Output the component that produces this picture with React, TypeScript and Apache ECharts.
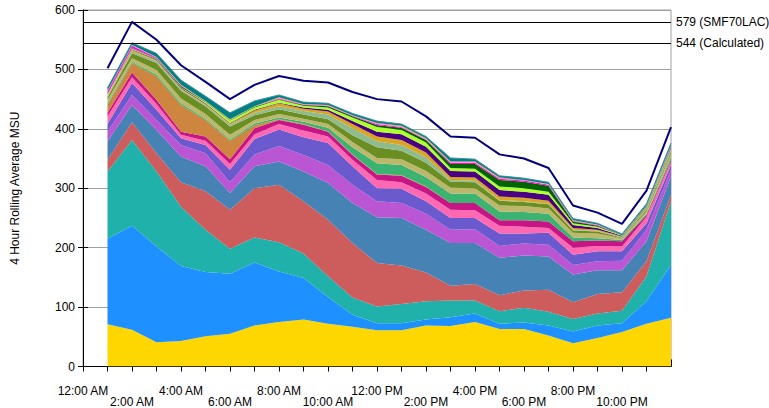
import React, { useEffect, useRef } from "react";
import * as echarts from "echarts";

const hourLabels = [
  "12:00 AM", "1:00 AM", "2:00 AM", "3:00 AM", "4:00 AM", "5:00 AM", "6:00 AM",
  "7:00 AM", "8:00 AM", "9:00 AM", "10:00 AM", "11:00 AM", "12:00 PM",
  "1:00 PM", "2:00 PM", "3:00 PM", "4:00 PM", "5:00 PM", "6:00 PM",
  "7:00 PM", "8:00 PM", "9:00 PM", "10:00 PM", "11:00 PM", "12:00 AM",
];

// values for hours 1..24 (stacked MSU per workload)
const s01 = [71, 62, 41, 43, 51, 55, 69, 75, 79, 72, 67, 61, 61, 69, 68, 75, 63, 63, 52, 39, 48, 58, 72, 82];
const s02 = [144, 175, 161, 126, 108, 101, 106, 85, 70, 45, 20, 12, 12, 10, 15, 14, 9, 11, 17, 20, 21, 15, 38, 89];
const s03 = [113, 144, 126, 100, 71, 42, 42, 49, 41, 35, 29, 28, 32, 31, 28, 22, 21, 25, 23, 21, 20, 21, 42, 107];
const s04 = [20, 30, 31, 41, 65, 66, 83, 97, 88, 95, 92, 73, 65, 48, 25, 28, 27, 29, 37, 28, 33, 31, 25, 11];
const s05 = [31, 29, 39, 43, 42, 28, 37, 39, 50, 62, 67, 77, 80, 72, 72, 69, 63, 59, 56, 47, 40, 37, 34, 31];
const s06 = [16, 17, 17, 20, 22, 18, 20, 26, 28, 30, 31, 27, 25, 27, 22, 23, 20, 20, 20, 16, 15, 16, 19, 11];
const s07 = [13, 20, 17, 11, 14, 21, 26, 28, 30, 37, 31, 22, 24, 21, 20, 19, 21, 17, 20, 17, 17, 16, 11, 8];
const s08 = [13, 10, 10, 6, 7, 10, 8, 9, 11, 11, 11, 14, 11, 13, 14, 13, 13, 11, 8, 12, 9, 8, 11, 6];
const s09 = [6, 8, 7, 5, 7, 8, 10, 7, 10, 8, 8, 9, 11, 11, 11, 12, 9, 11, 11, 11, 9, 9, 3, 3];
const s10 = [13, 16, 39, 45, 28, 31, 5, 1, 1, 1, 1, 1, 1, 1, 0, 0, 0, 0, 0, 0, 0, 0, 0, 0];
const s11 = [3, 2, 3, 3, 2, 2, 3, 3, 4, 6, 12, 18, 17, 16, 16, 16, 15, 14, 13, 6, 4, 2, 2, 4];
const s12 = [6, 6, 8, 8, 8, 8, 6, 6, 5, 6, 9, 9, 10, 10, 10, 9, 10, 10, 9, 8, 8, 3, 4, 6];
const s13 = [4, 8, 12, 13, 13, 14, 8, 8, 7, 8, 11, 18, 14, 14, 10, 10, 8, 7, 7, 4, 3, 1, 3, 4];
const s14 = [2, 3, 3, 2, 2, 3, 4, 5, 6, 8, 12, 10, 10, 9, 3, 3, 1, 1, 1, 1, 1, 1, 1, 3];
const s15 = [2, 3, 2, 2, 2, 2, 4, 5, 4, 5, 7, 8, 8, 8, 5, 5, 6, 6, 5, 3, 2, 1, 2, 2];
const s16 = [0, 1, 1, 1, 1, 1, 1, 1, 2, 3, 5, 8, 10, 10, 10, 10, 11, 10, 10, 5, 3, 1, 1, 1];
const s17 = [1, 1, 1, 1, 2, 4, 4, 5, 3, 4, 6, 8, 7, 7, 5, 5, 6, 6, 5, 3, 2, 1, 1, 1];
const s18 = [0, 1, 1, 2, 1, 1, 1, 1, 1, 2, 2, 3, 4, 4, 7, 8, 11, 11, 10, 3, 2, 0, 1, 1];
const s19 = [5, 4, 1, 1, 0, 0, 0, 1, 1, 1, 1, 2, 1, 1, 2, 2, 2, 2, 2, 1, 1, 0, 0, 1];
const s20 = [1, 1, 1, 1, 1, 1, 1, 2, 1, 1, 1, 2, 2, 2, 2, 2, 2, 1, 1, 1, 1, 0, 1, 1];
const s21 = [5, 4, 6, 8, 8, 11, 9, 4, 3, 3, 3, 3, 3, 3, 6, 4, 3, 3, 3, 3, 2, 2, 3, 4];

const rollingAvg = [502, 580, 550, 507, 479, 450, 474, 489, 481, 478, 462, 450, 446, 421, 387, 385, 357, 350, 334, 271, 259, 240, 296, 403];

const thresholdValues = [579, 544];
const thresholdNames = ["SMF70LAC", "Calculated"];

const layers = [s01, s02, s03, s04, s05, s06, s07, s08, s09, s10, s11, s12, s13, s14, s15, s16, s17, s18, s19, s20, s21];
const layerColors = [
  "#FFD700", "#1E90FF", "#20B2AA", "#CD5C5C", "#4682B4", "#BA55D3", "#6A5ACD",
  "#FF69B4", "#C71585", "#CD853F", "#3CB371", "#BDB76B", "#6B8E23", "#8FBC8F",
  "#DAA520", "#4B0082", "#ADFF2F", "#006400", "#FF00FF", "#FFA07A", "#008080",
];

const FONT = "'Liberation Sans', Arial, sans-serif";

export default function App() {
  const ref = useRef<HTMLDivElement>(null);

  useEffect(() => {
    if (!ref.current) return;
    const chart = echarts.init(ref.current, null, { renderer: "svg" });

    const areaSeries = layers.map((vals, i) => ({
      name: "Workload " + (i + 1),
      type: "line",
      stack: "total",
      symbol: "none",
      showSymbol: false,
      data: [null, ...vals],
      lineStyle: i === layers.length - 1 ? { width: 1, color: "#3F8FA3" } : { width: 0 },
      itemStyle: { color: layerColors[i] },
      areaStyle: { color: layerColors[i], opacity: 1 },
      z: 2,
    }));

    const option: any = {
      animation: false,
      textStyle: { fontFamily: FONT },
      grid: {
        left: 83,
        right: 98,
        top: 10,
        bottom: 41,
        containLabel: false,
        show: true,
        borderColor: "#A0A0A0",
        borderWidth: 1,
      },
      xAxis: [
        {
          type: "category",
          data: hourLabels,
          boundaryGap: false,
          position: "bottom",
          axisLine: { show: true, onZero: false, lineStyle: { color: "#000", width: 1 } },
          axisTick: { show: true, interval: 0, length: 5, lineStyle: { color: "#000" } },
          axisLabel: {
            interval: 1,
            margin: 19,
            color: "#000",
            fontSize: 12,
            fontFamily: FONT,
            lineHeight: 11,
            formatter: (value: string, index: number) => (index % 4 === 2 ? "\n" + value : value),
          },
          splitLine: { show: false },
        },
        {
          type: "category",
          data: hourLabels,
          boundaryGap: false,
          position: "bottom",
          axisLine: { show: false, onZero: false },
          axisTick: { show: true, interval: 1, inside: true, length: 7, lineStyle: { color: "#000" } },
          axisLabel: { show: false },
          splitLine: { show: false },
        },
      ],
      yAxis: [
        {
          type: "value",
          min: 0,
          max: 600,
          interval: 100,
          position: "left",
          name: "4 Hour Rolling Average MSU",
          nameLocation: "middle",
          nameRotate: 90,
          nameGap: 62,
          nameTextStyle: { color: "#000", fontSize: 12, fontFamily: FONT },
          axisLine: { show: true, lineStyle: { color: "#000", width: 1 } },
          axisTick: { show: true, length: 5, lineStyle: { color: "#000" } },
          axisLabel: { color: "#000", fontSize: 12, fontFamily: FONT, margin: 8 },
          splitLine: { show: true, lineStyle: { color: "#A0A0A0", width: 1 } },
        },
        {
          type: "value",
          min: 0,
          max: 600,
          interval: 100,
          position: "left",
          axisLine: { show: false },
          axisTick: { show: true, inside: true, length: 5, lineStyle: { color: "#000" } },
          axisLabel: { show: false },
          splitLine: { show: false },
        },
      ],
      series: [
        ...areaSeries,
        {
          name: "4 Hour Rolling Average",
          type: "line",
          symbol: "none",
          showSymbol: false,
          data: [null, ...rollingAvg],
          lineStyle: { color: "#000080", width: 2 },
          itemStyle: { color: "#000080" },
          z: 5,
          markLine: {
            silent: true,
            symbol: ["none", "none"],
            animation: false,
            lineStyle: { color: "#000", width: 1, type: "solid" },
            label: {
              show: true,
              position: "end",
              distance: 5,
              color: "#000",
              fontSize: 12,
              fontFamily: FONT,
            },
            data: thresholdValues.map((v, i) => ({
              yAxis: v,
              label: { formatter: v + " (" + thresholdNames[i] + ")" },
            })),
          },
        },
      ],
    };

    chart.setOption(option);
    return () => chart.dispose();
  }, []);

  return (
    <div
      ref={ref}
      style={{ position: "fixed", left: 0, top: 0, width: 769, height: 408, background: "#fff" }}
    />
  );
}
